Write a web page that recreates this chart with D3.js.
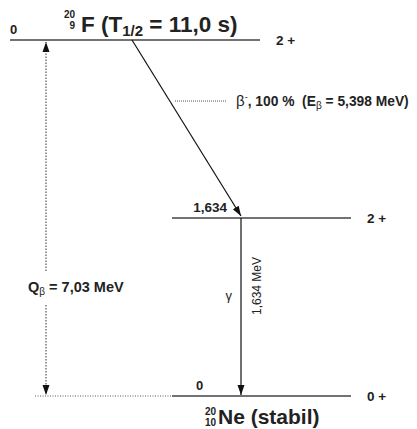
<!DOCTYPE html>
<html>
<head>
<meta charset="utf-8">
<script src="https://cdn.jsdelivr.net/npm/d3@7"></script>
<style>
  html, body { margin: 0; padding: 0; background: #fff; }
  svg { display: block; font-family: "Liberation Sans", Arial, Helvetica, sans-serif; }
</style>
</head>
<body>
<svg id="chart" width="417" height="429"></svg>
<script>
// Decay scheme of 20F -> 20Ne
const tiers = ["F20 g.s.", "Ne20 1.634", "Ne20 g.s."];
const levelEnergies = ["0", "1,634", "0"];
const levelSpins = ["2 +", "2 +", "0 +"];
const levelSpan = [[0, 250], [162, 341], [162, 341]];   // horizontal extent of each level line
const groundDotted = [25, 162];                           // Q-value reference extension
const betaFrom = 122, gammaAt = 231;                      // transition anchor points
const qValue = "7,03";
const betaBranch = "100 %";
const betaEnergy = "5,398";
const gammaEnergy = "1,634";
const halfLife = "11,0 s";

const svg = d3.select("#chart");
const y = d3.scalePoint().domain(tiers).range([40, 396]);
const x = d3.scaleLinear().domain([0, 400]).range([10, 410]);

const defs = svg.append("defs");
defs.append("marker").attr("id", "ah").attr("viewBox", "0 0 10 10")
  .attr("refX", 10).attr("refY", 5).attr("markerWidth", 10).attr("markerHeight", 10)
  .attr("markerUnits", "userSpaceOnUse").attr("orient", "auto")
  .append("path").attr("d", "M0,1.5 L10,5 L0,8.5 Z").attr("fill", "#111");

const lineCol = "#444";
const ink = "#222";

// Level lines with spin/parity labels
tiers.forEach((t, i) => {
  svg.append("line")
    .attr("x1", x(levelSpan[i][0])).attr("x2", x(levelSpan[i][1]))
    .attr("y1", y(t)).attr("y2", y(t))
    .attr("stroke", lineCol).attr("stroke-width", 1.3);
  svg.append("text")
    .attr("x", x(levelSpan[i][1]) + 16).attr("y", y(t) + 5)
    .attr("font-size", 13.5).attr("font-weight", "bold").attr("fill", ink)
    .text(levelSpins[i]);
});

// Energy labels on levels
svg.append("text").attr("x", x(0)).attr("y", y(tiers[0]) - 6)
  .attr("font-size", 13).attr("font-weight", "bold").attr("fill", ink).text(levelEnergies[0]);
svg.append("text").attr("x", x(gammaAt) - 14).attr("y", y(tiers[1]) - 6).attr("text-anchor", "end")
  .attr("font-size", 13.5).attr("font-weight", "bold").attr("fill", ink).text(levelEnergies[1]);
svg.append("text").attr("x", x(186)).attr("y", y(tiers[2]) - 6)
  .attr("font-size", 13).attr("font-weight", "bold").attr("fill", ink).text(levelEnergies[2]);

// Dotted extension of the ground state
svg.append("line")
  .attr("x1", x(groundDotted[0])).attr("x2", x(groundDotted[1]))
  .attr("y1", y(tiers[2])).attr("y2", y(tiers[2]))
  .attr("stroke", "#555").attr("stroke-width", 1).attr("stroke-dasharray", "1,1.5");

// Q-value double arrow (dotted, broken around label)
const qx = x(36);
const qLabelY = 287;
svg.append("line").attr("x1", qx).attr("x2", qx)
  .attr("y1", qLabelY - 16).attr("y2", y(tiers[0]) + 2)
  .attr("stroke", "#333").attr("stroke-width", 1).attr("stroke-dasharray", "1.5,1.5")
  .attr("marker-end", "url(#ah)");
svg.append("line").attr("x1", qx).attr("x2", qx)
  .attr("y1", qLabelY + 18).attr("y2", y(tiers[2]) - 1)
  .attr("stroke", "#333").attr("stroke-width", 1).attr("stroke-dasharray", "1.5,1.5")
  .attr("marker-end", "url(#ah)");
const qt = svg.append("text").attr("x", 28).attr("y", qLabelY + 5)
  .attr("font-size", 14.5).attr("font-weight", "bold").attr("fill", ink);
qt.append("tspan").text("Q");
qt.append("tspan").attr("font-size", 10).attr("font-weight", "normal").attr("dy", 3).text("β");
qt.append("tspan").attr("dy", -3).text(` = ${qValue} MeV`);

// Beta transition
svg.append("line")
  .attr("x1", x(betaFrom)).attr("y1", y(tiers[0]))
  .attr("x2", x(gammaAt)).attr("y2", y(tiers[1]) - 2)
  .attr("stroke", "#111").attr("stroke-width", 1.2)
  .attr("marker-end", "url(#ah)");
const by = 101;
svg.append("line").attr("x1", 175).attr("x2", 226).attr("y1", by).attr("y2", by)
  .attr("stroke", "#555").attr("stroke-width", 1).attr("stroke-dasharray", "1,1");
const bt = svg.append("text").attr("x", 236).attr("y", by + 5)
  .attr("font-size", 13.8).attr("fill", ink).attr("xml:space", "preserve");
bt.append("tspan").attr("font-size", 15).text("β");
bt.append("tspan").attr("font-size", 9).attr("dy", -6).text("-");
bt.append("tspan").attr("dy", 6).attr("font-weight", "bold").text(`, ${betaBranch}  (E`);
bt.append("tspan").attr("font-size", 10).attr("dy", 3).text("β");
bt.append("tspan").attr("dy", -3).attr("font-weight", "bold").text(` = ${betaEnergy} MeV)`);

// Gamma transition
svg.append("line")
  .attr("x1", x(gammaAt)).attr("x2", x(gammaAt))
  .attr("y1", y(tiers[1])).attr("y2", y(tiers[2]) - 1)
  .attr("stroke", "#111").attr("stroke-width", 1.2)
  .attr("marker-end", "url(#ah)");
svg.append("text").attr("x", x(gammaAt) - 9).attr("y", 300).attr("text-anchor", "end")
  .attr("font-size", 13).attr("fill", ink).text("γ");
svg.append("text").attr("transform", `translate(${x(gammaAt) + 20},286) rotate(-90)`)
  .attr("text-anchor", "middle").attr("font-size", 12).attr("fill", ink)
  .text(`${gammaEnergy} MeV`);

// Parent nucleus title
svg.append("text").attr("x", 75).attr("y", 18).attr("text-anchor", "end").attr("font-size", 10).attr("font-weight", "bold").attr("fill", ink).text("20");
svg.append("text").attr("x", 75).attr("y", 29).attr("text-anchor", "end").attr("font-size", 10).attr("font-weight", "bold").attr("fill", ink).text("9");
const tt = svg.append("text").attr("x", 81).attr("y", 32)
  .attr("font-size", 22.5).attr("font-weight", "bold").attr("fill", ink);
tt.append("tspan").text("F (T");
tt.append("tspan").attr("font-size", 15).attr("dy", 4).text("1/2");
tt.append("tspan").attr("dy", -4).text(` = ${halfLife})`);

// Daughter nucleus title
svg.append("text").attr("x", 216).attr("y", 415).attr("text-anchor", "end").attr("font-size", 10).attr("font-weight", "bold").attr("fill", ink).text("20");
svg.append("text").attr("x", 216).attr("y", 426).attr("text-anchor", "end").attr("font-size", 10).attr("font-weight", "bold").attr("fill", ink).text("10");
svg.append("text").attr("x", 218).attr("y", 424)
  .attr("font-size", 21).attr("font-weight", "bold").attr("fill", ink).text("Ne (stabil)");
</script>
</body>
</html>
